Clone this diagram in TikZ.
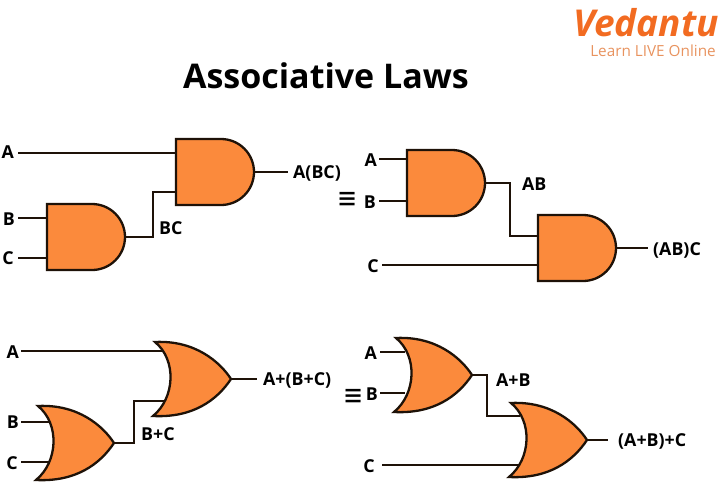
\documentclass[tikz,border=0pt]{standalone}
\usepackage{fontspec}
\usetikzlibrary{calc}
\setmainfont{Open Sans}
\newfontfamily\symfont{DejaVu Sans}
\definecolor{gatefill}{HTML}{FB8A3C}
\definecolor{logoc}{HTML}{F26B21}
\definecolor{logol}{HTML}{E8935F}
\definecolor{ink}{HTML}{1E1208}
\tikzset{
  gate/.style={draw=ink,fill=gatefill,line width=2.3pt,line join=miter},
  wire/.style={draw=ink,line width=2pt},
  lab/.style={font=\fontsize{17.8}{18}\selectfont\bfseries,text=black,inner sep=0pt},
  eqv/.style={font=\symfont\fontsize{24}{24}\selectfont,text=black,inner sep=0pt,yscale=1.25},
}
% AND gate: left x, top y
\newcommand{\andgate}[2]{%
  \path[gate] (#1,#2) -- ++(45,0) arc[start angle=-90,end angle=90,radius=33] -- ++(-45,0) -- cycle;
}
% OR gate: top-left tip x, y
\newcommand{\orgate}[2]{%
  \path[gate] (#1,#2) .. controls ($(#1,#2)+(40,-2)$) and ($(#1,#2)+(65,20)$) .. ($(#1,#2)+(76,37)$)
    .. controls ($(#1,#2)+(62,58)$) and ($(#1,#2)+(38,76)$) .. ($(#1,#2)+(-2,74)$)
    .. controls ($(#1,#2)+(20,56)$) and ($(#1,#2)+(22,18)$) .. cycle;
}
\begin{document}
\begin{tikzpicture}[x=1pt,y=-1pt]
\useasboundingbox (0,0) rectangle (720,483);
\node[inner sep=0pt,font=\fontsize{34}{34}\selectfont\bfseries] (title) at (326,76) {Associative Laws};
\node[inner sep=0pt,anchor=base,font=\fontsize{37}{37}\selectfont\bfseries\itshape,text=logoc] (logo) at (646,36) {Vedantu};
\node[inner sep=0pt,font=\fontsize{15.3}{15}\selectfont,text=logol] (tag) at (653,51) {Learn LIVE Online};

\node[lab,anchor=east] (a1) at (14,152) {A};
\node[lab,anchor=east] (b1) at (15,219) {B};
\node[lab,anchor=east] (c1) at (14,258) {C};
\node[lab,anchor=west] (o1) at (293,173) {A(BC)};
\node[lab,anchor=west] (bc) at (159,228) {BC};
\draw[wire] (18,153) -- (176,153);
\draw[wire] (18,218) -- (47,218);
\draw[wire] (18,258) -- (47,258);
\draw[wire] (125,237) -| (153,192) -- (176,192);
\draw[wire] (253,172) -- (288,172);
\andgate{176}{139}
\andgate{47}{204}

\node[eqv] (eq1) at (348,200) {≡};
\node[lab,anchor=east] (a2) at (377,160) {A};
\node[lab,anchor=east] (b2) at (376,202) {B};
\node[lab,anchor=east] (c2) at (379,266) {C};
\node[lab,anchor=west] (ab) at (522,184) {AB};
\node[lab,anchor=west] (o2) at (653,250) {(AB)C};
\draw[wire] (379,159) -- (407,159);
\draw[wire] (379,201) -- (407,201);
\draw[wire] (484,183) -| (510,236) -- (538,236);
\draw[wire] (382,265) -- (538,265);
\draw[wire] (615,248) -- (648,248);
\andgate{407}{150}
\andgate{538}{215}

\node[lab,anchor=east] (a3) at (19,352) {A};
\node[lab,anchor=east] (b3) at (19,422) {B};
\node[lab,anchor=east] (c3) at (18,463) {C};
\node[lab,anchor=west] (o3) at (263,380) {A+(B+C)};
\node[lab,anchor=west] (bpc) at (141,434) {B+C};
\draw[wire] (21,351) -- (165,351);
\draw[wire] (21,422) -- (50,422);
\draw[wire] (21,462) -- (50,462);
\draw[wire] (114,443) -| (134,401) -- (168,401);
\draw[wire] (231,379) -- (257,379);
\orgate{155}{342}
\orgate{38}{406}

\node[eqv] (eq2) at (354,397) {≡};
\node[lab,anchor=east] (a4) at (377,353) {A};
\node[lab,anchor=east] (b4) at (378,394) {B};
\node[lab,anchor=east] (c4) at (375,466) {C};
\node[lab,anchor=west] (apb) at (496,380) {A+B};
\node[lab,anchor=west] (o4) at (618,441) {(A+B)+C};
\draw[wire] (380,352) -- (405,352);
\draw[wire] (380,393) -- (405,393);
\draw[wire] (472,375) -| (487,416) -- (520,416);
\draw[wire] (382,465) -- (520,465);
\draw[wire] (587,440) -- (608,440);
\orgate{396}{338}
\orgate{511}{403}
\end{tikzpicture}
\end{document}
